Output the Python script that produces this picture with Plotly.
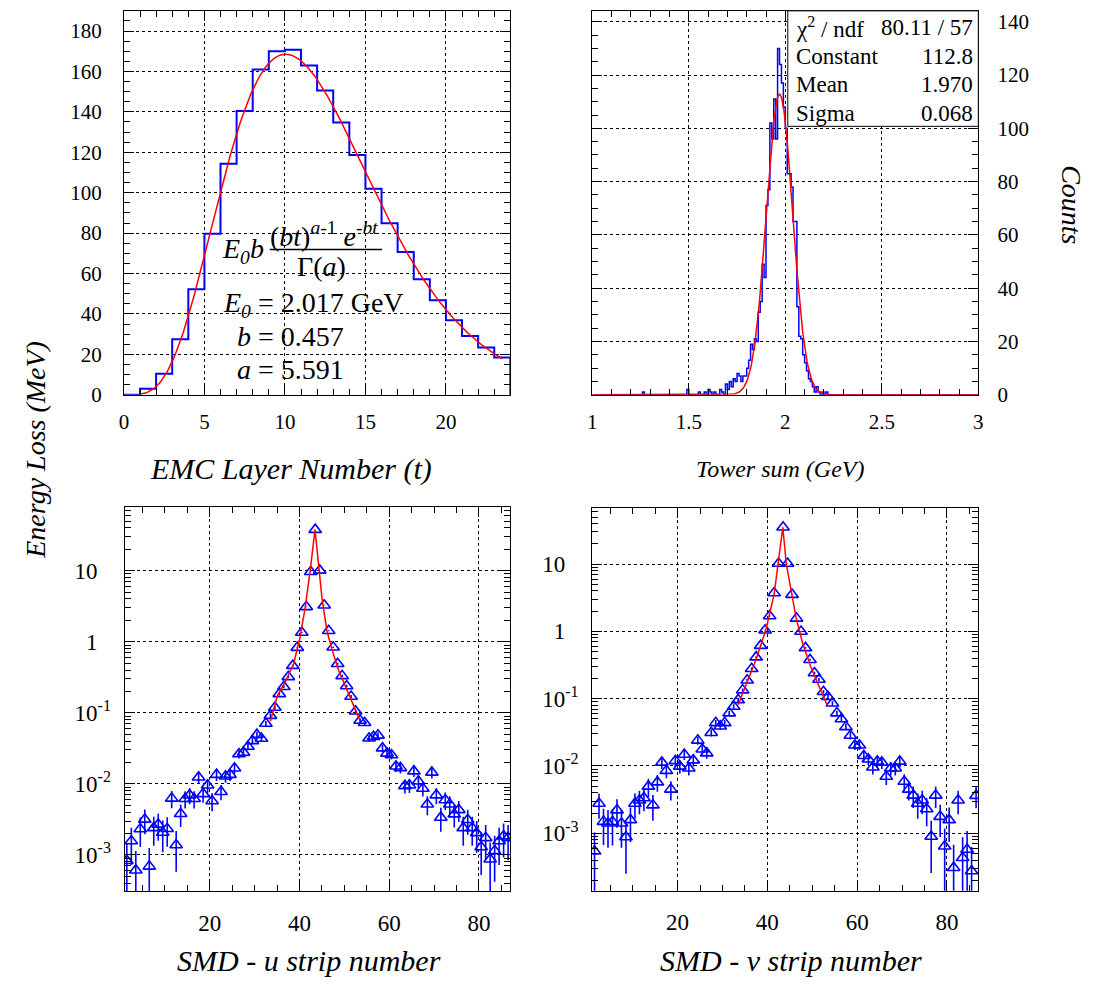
import math
import numpy as np
import plotly.graph_objects as go

FONT = "Liberation Serif"
BLUE = "#0000ff"
RED = "#ff0000"
W, H = 1095, 991

# ---------------- data: top-left (EMC layer energy deposit, MeV) ----------------
layer_edges = list(range(0, 25))
layer_energy = [0, 3, 10.4, 27.5, 52.2, 79.7, 114.3, 140.5, 161, 170, 170.7, 163,
                150.6, 134.8, 118.7, 102, 84.9, 70.7, 57.2, 46.8, 36.9, 29.1, 23.4, 18.5]
gamma_E0_GeV = 2.017
gamma_b = 0.457
gamma_a = 5.591
gamma_fit_range = (1.0, 23.5)

# ---------------- data: top-right (tower sum, 0.01 GeV bins from 1 to 3) ----------------
tower_lo, tower_hi, tower_bw = 1.0, 3.0, 0.01
tower_bin_left = [1.26, 1.49, 1.55, 1.58, 1.60, 1.61, 1.63, 1.66, 1.67, 1.69, 1.70, 1.71, 1.72,
                  1.73, 1.74, 1.75, 1.76, 1.77, 1.78, 1.79, 1.80, 1.81, 1.82, 1.83, 1.84, 1.85,
                  1.86, 1.87, 1.88, 1.89, 1.90, 1.91, 1.92, 1.93, 1.94, 1.95, 1.96, 1.97, 1.98,
                  1.99, 2.00, 2.01, 2.02, 2.03, 2.04, 2.05, 2.06, 2.07, 2.08, 2.09, 2.10, 2.11,
                  2.12, 2.13, 2.14, 2.15, 2.16, 2.17, 2.19, 2.21]
tower_counts = [1, 2, 1, 1, 2, 1, 1, 2, 1, 4, 2, 5, 3,
                6, 5, 8, 7, 5, 7, 7, 10, 13, 19, 17, 21, 20,
                31, 35, 49, 44, 71, 77, 102, 96, 111, 96, 130, 124, 117,
                108, 100, 83, 83, 78, 65, 65, 33, 22, 21, 15, 12, 9,
                6, 5, 3, 1, 3, 1, 1, 1]
gaus_const, gaus_mean, gaus_sigma = 112.8, 1.970, 0.068
gaus_chi2, gaus_ndf = 80.11, 57

# ---------------- data: bottom (SMD strips) ----------------
strip_center = [k + 0.5 for k in range(1, 87)]
smd_u = [8.3e-4, 1.57e-3, 6.1e-4, 2.32e-3, 3.16e-3, 6.9e-4, 2.40e-3, 2.69e-3, 2.07e-3, 2.34e-3,
         6.25e-3, 1.38e-3, 3.80e-3, 6.17e-3, 6.95e-3, 6.17e-3, 1.24e-2, 7.24e-3, 9.55e-3, 5.75e-3,
         1.35e-2, 7.76e-3, 1.28e-2, 1.35e-2, 1.66e-2, 2.63e-2, 2.77e-2, 3.36e-2, 4.03e-2, 4.93e-2,
         4.34e-2, 7.08e-2, 9.14e-2, 0.119, 0.185, 0.233, 0.321, 0.461, 0.828, 1.35,
         3.10, 9.68, 37.8, 10.1, 3.27, 1.43, 0.838, 0.491, 0.331, 0.238,
         0.170, 0.105, 7.80e-2, 7.24e-2, 4.39e-2, 4.62e-2, 4.82e-2, 3.18e-2, 2.69e-2, 2.55e-2,
         1.77e-2, 1.68e-2, 9.38e-3, 9.55e-3, 1.51e-2, 1.09e-2, 8.61e-3, 5.16e-3, 1.45e-2, 6.95e-3,
         3.37e-3, 5.93e-3, 5.16e-3, 3.75e-3, 4.31e-3, 2.40e-3, 3.13e-3, 2.40e-3, 2.04e-3, 1.29e-3,
         1.74e-3, 8.7e-4, 1.14e-3, 1.57e-3, 1.84e-3, 1.74e-3]
smd_u_err = [6.2e-4, 8.5e-4, 5.3e-4, 1.03e-3, 1.21e-3, 5.6e-4, 1.05e-3, 1.11e-3, 9.8e-4, 1.04e-3,
             1.70e-3, 8.0e-4, 1.32e-3, 1.68e-3, 1.79e-3, 1.68e-3, 2.39e-3, 1.82e-3, 2.10e-3, 1.63e-3,
             2.49e-3, 1.89e-3, 2.43e-3, 2.49e-3, 2.76e-3, 3.48e-3, 3.57e-3, 3.93e-3, 4.31e-3, 4.76e-3,
             4.47e-3, 5.71e-3, 6.48e-3, 7.4e-3, 9.2e-3, 1.04e-2, 1.22e-2, 1.46e-2, 1.95e-2, 2.49e-2,
             3.78e-2, 6.67e-2, 0.132, 6.8e-2, 3.88e-2, 2.56e-2, 1.96e-2, 1.50e-2, 1.23e-2, 1.05e-2,
             8.8e-3, 6.9e-3, 6.0e-3, 5.77e-3, 4.49e-3, 4.61e-3, 4.71e-3, 3.82e-3, 3.52e-3, 3.42e-3,
             2.85e-3, 2.78e-3, 2.08e-3, 2.10e-3, 2.64e-3, 2.24e-3, 1.99e-3, 1.54e-3, 2.58e-3, 1.79e-3,
             1.25e-3, 1.65e-3, 1.54e-3, 1.31e-3, 1.41e-3, 1.05e-3, 1.20e-3, 1.05e-3, 9.7e-4, 7.7e-4,
             8.9e-4, 6.3e-4, 7.2e-4, 8.5e-4, 9.2e-4, 8.9e-4]
smd_v = [5.4e-4, 2.77e-3, 1.49e-3, 1.41e-3, 1.48e-3, 2.21e-3, 1.41e-3, 8.8e-4, 1.58e-3, 2.77e-3,
         3.10e-3, 3.35e-3, 4.97e-3, 2.62e-3, 5.75e-3, 1.13e-2, 8.53e-3, 4.49e-3, 1.19e-2, 9.86e-3,
         1.48e-2, 9.23e-3, 1.22e-2, 2.40e-2, 1.77e-2, 1.55e-2, 3.11e-2, 4.37e-2, 3.89e-2, 4.37e-2,
         6.11e-2, 7.66e-2, 9.59e-2, 0.134, 0.188, 0.279, 0.414, 0.614, 1.04, 1.69,
         3.72, 10.2, 35.3, 10.2, 3.52, 1.56, 0.995, 0.568, 0.378, 0.241,
         0.193, 0.127, 0.107, 8.57e-2, 6.11e-2, 4.99e-2, 3.81e-2, 2.84e-2, 2.03e-2, 2.03e-2,
         1.42e-2, 1.26e-2, 9.55e-3, 1.17e-2, 1.13e-2, 6.97e-3, 9.23e-3, 9.23e-3, 1.17e-2, 5.89e-3,
         4.49e-3, 3.66e-3, 2.77e-3, 3.10e-3, 2.29e-3, 8.97e-4, 3.66e-3, 1.77e-3, 6.41e-4, 1.58e-3,
         3.08e-4, 3.10e-3, 4.33e-4, 5.73e-4, 2.75e-4, 3.63e-3]
smd_v_err = [4.9e-4, 1.12e-3, 8.2e-4, 8.0e-4, 8.2e-4, 1.0e-3, 8.0e-4, 6.3e-4, 8.4e-4, 1.12e-3,
             1.18e-3, 1.23e-3, 1.50e-3, 1.09e-3, 1.61e-3, 2.25e-3, 1.96e-3, 1.42e-3, 2.31e-3, 2.11e-3,
             2.58e-3, 2.04e-3, 2.34e-3, 3.29e-3, 2.82e-3, 2.64e-3, 3.74e-3, 4.43e-3, 4.18e-3, 4.43e-3,
             5.24e-3, 5.87e-3, 6.57e-3, 7.8e-3, 9.2e-3, 1.12e-2, 1.36e-2, 1.66e-2, 2.16e-2, 2.76e-2,
             4.09e-2, 6.78e-2, 0.126, 6.78e-2, 3.98e-2, 2.65e-2, 2.12e-2, 1.60e-2, 1.30e-2, 1.04e-2,
             9.3e-3, 7.6e-3, 6.9e-3, 6.21e-3, 5.24e-3, 4.74e-3, 4.14e-3, 3.57e-3, 3.02e-3, 3.02e-3,
             2.53e-3, 2.38e-3, 2.07e-3, 2.29e-3, 2.25e-3, 1.77e-3, 2.04e-3, 2.04e-3, 2.29e-3, 1.63e-3,
             1.42e-3, 1.28e-3, 1.12e-3, 1.18e-3, 1.02e-3, 6.4e-4, 1.28e-3, 8.9e-4, 5.4e-4, 8.4e-4,
             3.7e-4, 1.18e-3, 4.4e-4, 5.1e-4, 3.5e-4, 1.28e-3]
# fitted curves
fit_u_x = [33.5, 35.0, 36.8, 38.7, 40.1, 41.25, 42.35, 43.45, 44.26, 45.0, 46.1, 47.2, 48.7, 50.1, 51.6, 53.45]
fit_u_y = [7.6e-2, 0.169, 0.274, 0.491, 1.15, 3.0, 9.68, 37.8, 12.0, 4.13, 1.43, 0.794, 0.398, 0.246, 0.152, 7.9e-2]
fit_v_x = [33.5, 35.2, 37.4, 39.6, 41.5, 42.4, 43.45, 44.2, 45.3, 46.4, 47.9, 49.7, 51.55, 53.4]
fit_v_y = [8.1e-2, 0.159, 0.370, 1.02, 3.52, 10.2, 35.3, 10.2, 3.93, 1.60, 0.650, 0.295, 0.150, 7.8e-2]

# log-axis tick labels
log_tickvals = [1e-3, 1e-2, 1e-1, 1, 10]
HIDE = "<span style='color:rgba(0,0,0,0)'><sup>-1</sup></span>"
log_ticktext = ["10<sup>-3</sup>", "10<sup>-2</sup>", "10<sup>-1</sup>", "1" + HIDE, "10" + HIDE]
log_minor_vals = [m * 10.0 ** e for e in range(-4, 2) for m in range(2, 10)]

# ---------------- figure ----------------
fig = go.Figure()

# top-left histogram
hx = layer_edges[:-1] + [layer_edges[-1], layer_edges[-1]]
hy = layer_energy + [layer_energy[-1], 0]
fig.add_trace(go.Scatter(x=hx, y=hy, mode="lines", line=dict(color=BLUE, width=2, shape="hv"),
                         xaxis="x", yaxis="y", showlegend=False, hoverinfo="skip"))
t = np.linspace(gamma_fit_range[0], gamma_fit_range[1], 300)
gfit = [gamma_E0_GeV * 1000 * gamma_b * (gamma_b * tt) ** (gamma_a - 1) * math.exp(-gamma_b * tt)
        / math.gamma(gamma_a) for tt in t]
fig.add_trace(go.Scatter(x=t, y=gfit, mode="lines", line=dict(color=RED, width=1.5),
                         xaxis="x", yaxis="y", showlegend=False, hoverinfo="skip"))

# top-right histogram
nb = int(round((tower_hi - tower_lo) / tower_bw))
counts = [0] * nb
for left, c in zip(tower_bin_left, tower_counts):
    counts[int(round((left - tower_lo) / tower_bw))] = c
tx = [tower_lo + tower_bw * i for i in range(nb)] + [tower_hi]
ty = counts + [counts[-1]]
fig.add_trace(go.Scatter(x=tx, y=ty, mode="lines", line=dict(color=BLUE, width=1.5, shape="hv"),
                         xaxis="x2", yaxis="y2", showlegend=False, hoverinfo="skip"))
gx = np.linspace(tower_lo, tower_hi, 600)
gy = gaus_const * np.exp(-0.5 * ((gx - gaus_mean) / gaus_sigma) ** 2)
fig.add_trace(go.Scatter(x=gx, y=gy, mode="lines", line=dict(color=RED, width=1.5),
                         xaxis="x2", yaxis="y2", showlegend=False, hoverinfo="skip"))

# bottom panels
for vals, errs, fx, fy, xa, ya in [(smd_u, smd_u_err, fit_u_x, fit_u_y, "x3", "y3"),
                                   (smd_v, smd_v_err, fit_v_x, fit_v_y, "x4", "y4")]:
    em = [min(e, v * 0.999) for v, e in zip(vals, errs)]
    fig.add_trace(go.Scatter(x=strip_center, y=vals, mode="markers",
                             marker=dict(symbol="triangle-up-open", size=11, color=BLUE,
                                         line=dict(color=BLUE, width=1.6)),
                             error_y=dict(type="data", array=errs, arrayminus=em, symmetric=False,
                                          color=BLUE, thickness=1.6, width=0),
                             xaxis=xa, yaxis=ya, showlegend=False, hoverinfo="skip"))
    fig.add_trace(go.Scatter(x=fx, y=fy, mode="lines", line=dict(color=RED, width=1.5),
                             xaxis=xa, yaxis=ya, showlegend=False, hoverinfo="skip"))


def px_x(p):
    return p / W


def px_y(p):
    return 1 - p / H


def common(size):
    return dict(showline=True, linecolor="black", linewidth=1, mirror="allticks",
                ticks="inside", ticklen=10, tickwidth=1, tickcolor="black",
                showgrid=True, gridcolor="black", griddash="dot", gridwidth=1,
                zeroline=False, tickfont=dict(family=FONT, size=size, color="black"))


def minor(dtick=None, tick0=0, vals=None):
    d = dict(ticks="inside", ticklen=6, tickwidth=1, tickcolor="black", showgrid=False)
    if vals is not None:
        d.update(tickmode="array", tickvals=vals)
    else:
        d.update(dtick=dtick, tick0=tick0)
    return d


dom_top = [px_y(399), px_y(10)]
fig.update_layout(
    xaxis=dict(domain=[px_x(120), px_x(510)], range=[0, 24], anchor="y", tickvals=[0, 5, 10, 15, 20],
               minor=minor(1), ticklabelstandoff=8, **common(21)),
    yaxis=dict(domain=dom_top, range=[0, 190], anchor="x", tickvals=list(range(0, 181, 20)),
               minor=minor(5), ticklabelstandoff=17, **common(21)),
    xaxis2=dict(domain=[px_x(592.7), px_x(982.3)], range=[1, 3], anchor="y2",
                tickvals=[1, 1.5, 2, 2.5, 3], ticktext=["1", "1.5", "2", "2.5", "3"],
                minor=minor(0.1, 1), ticklabelstandoff=8, **common(21)),
    yaxis2=dict(domain=dom_top, range=[0, 144.1], anchor="x2", side="right",
                tickvals=list(range(0, 141, 20)), minor=minor(5), ticklabelstandoff=14, **common(21)),
    xaxis3=dict(domain=[px_x(120.7), px_x(510)], range=[1, 87], anchor="y3", tickvals=[20, 40, 60, 80],
                minor=minor(5), ticklabelstandoff=11, **common(23)),
    yaxis3=dict(domain=[px_y(902), px_y(512.7)], type="log", range=[-3.51, 1.897], anchor="x3",
                tickvals=log_tickvals, ticktext=log_ticktext, minor=minor(vals=log_minor_vals),
                ticklabelstandoff=8, **common(23)),
    xaxis4=dict(domain=[px_x(592.7), px_x(982.3)], range=[1, 87], anchor="y4", tickvals=[20, 40, 60, 80],
                minor=minor(5), ticklabelstandoff=11, **common(23)),
    yaxis4=dict(domain=[px_y(901.7), px_y(513.3)], type="log", range=[-3.856, 1.84], anchor="x4",
                tickvals=log_tickvals, ticktext=log_ticktext, minor=minor(vals=log_minor_vals),
                ticklabelstandoff=8, **common(23)),
    width=W, height=H, margin=dict(l=0, r=0, t=0, b=0),
    paper_bgcolor="white", plot_bgcolor="white",
    font=dict(family=FONT, color="black"),
)

ann = []


def label(text, x, y, size, xref="paper", yref="paper", xanchor="center", yanchor="middle",
          textangle=0, italic=False):
    if italic:
        text = "<i>" + text + "</i>"
    ann.append(dict(text=text, x=x, y=y, xref=xref, yref=yref, xanchor=xanchor, yanchor=yanchor,
                    showarrow=False, textangle=textangle, font=dict(family=FONT, size=size, color="black")))


# axis titles
label("EMC Layer Number (t)", px_x(289), px_y(474), 30, italic=True)
label("Tower sum (GeV)", px_x(782), px_y(474), 24, italic=True)
label("SMD - u strip number", px_x(307), px_y(972), 30, italic=True)
label("SMD - v strip number", px_x(793), px_y(972), 30, italic=True)
label("Energy Loss (MeV)", px_x(30), px_y(455), 28, textangle=-90, italic=True)
label("Counts", px_x(1077), px_y(206), 28, textangle=90, italic=True)

# formula in top-left panel
label("<i>E</i><sub><i>0</i></sub><i>b</i>", 5.95, 71.5, 28, xref="x", yref="y", xanchor="left")
label("(<i>bt</i>)<sup><i>a</i>-1</sup> <i>e</i><sup>-<i>bt</i></sup>", 12.45, 79.5, 28, xref="x", yref="y")
label("\u0393(<i>a</i>)", 12.3, 63.5, 28, xref="x", yref="y")
label("<i>E</i><sub><i>0</i></sub> = 2.017 GeV", 6.0, 44.7, 28, xref="x", yref="y", xanchor="left")
label("<i>b</i> = 0.457", 6.9, 28.6, 28, xref="x", yref="y", xanchor="left")
label("<i>a</i> = 5.591", 6.9, 12.3, 28, xref="x", yref="y", xanchor="left")

# stats box
stats_left = ["\u03c7<sup>2</sup> / ndf", "Constant", "Mean", "Sigma"]
stats_right = [f"{gaus_chi2:.2f} / {gaus_ndf}", f"{gaus_const:.1f}", f"{gaus_mean:.3f}", f"{gaus_sigma:.3f}"]
for i, (l, r) in enumerate(zip(stats_left, stats_right)):
    yy = px_y(27 + 29 * i)
    label(l, px_x(796), yy, 23, xanchor="left")
    label(r, px_x(979), yy, 23, xanchor="right")

shapes = [
    dict(type="line", xref="x", yref="y", x0=9.06, x1=16.04, y0=71.9, y1=71.9,
         line=dict(color="black", width=1.5)),
    dict(type="rect", xref="paper", yref="paper", x0=px_x(790), x1=px_x(982.3), y0=px_y(127), y1=px_y(10),
         fillcolor="white", line=dict(color="black", width=1), layer="above"),
]
fig.update_layout(annotations=ann, shapes=shapes)

fig.write_html("out.html")
